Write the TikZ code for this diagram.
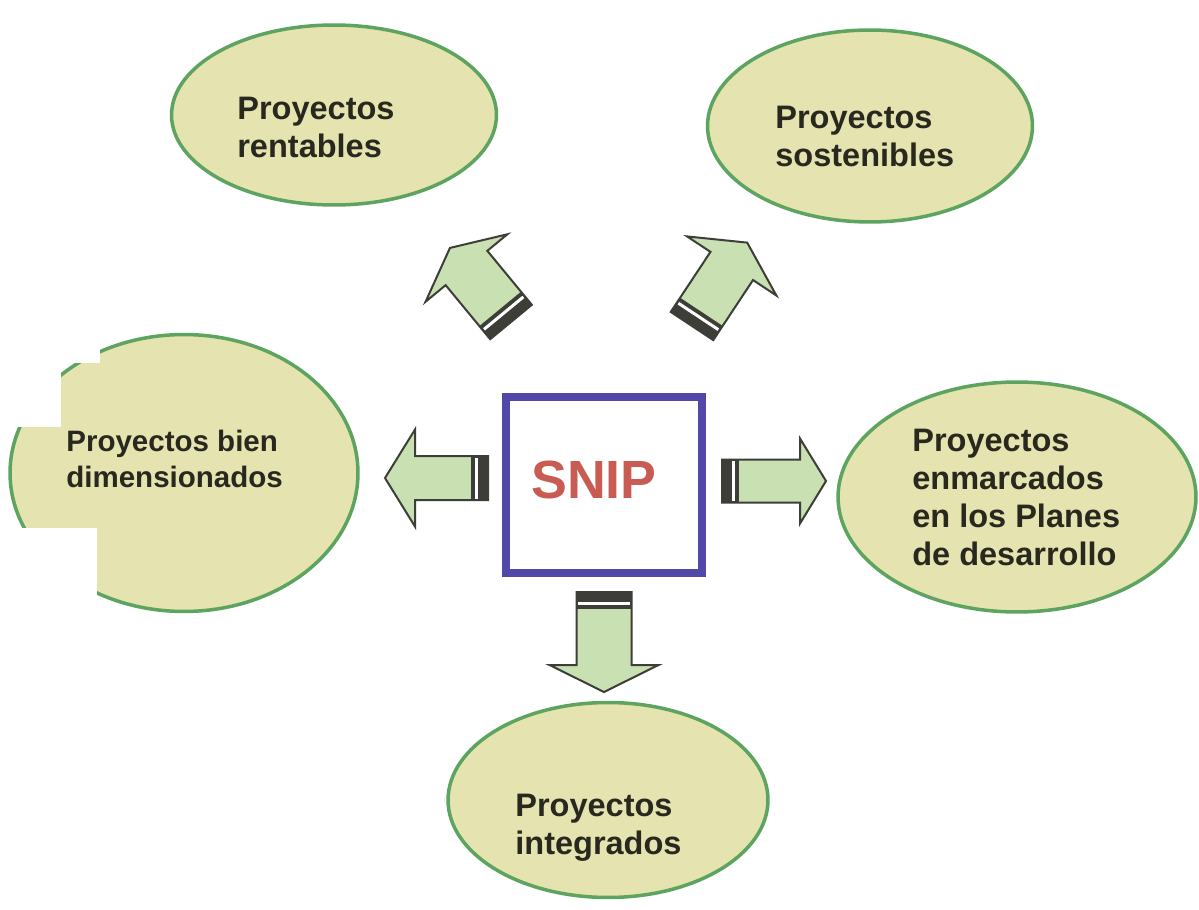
\documentclass[tikz,border=0pt]{standalone}
\usepackage{fontspec}
\setmainfont{Liberation Sans}
\usetikzlibrary{shapes.geometric}

\definecolor{bubblefill}{RGB}{229,227,176}
\definecolor{bubbleline}{RGB}{92,164,96}
\definecolor{arrowfill}{RGB}{200,224,178}
\definecolor{arrowline}{RGB}{60,62,55}
\definecolor{boxline}{RGB}{82,72,170}
\definecolor{sniptext}{RGB}{200,92,82}
\definecolor{labeltext}{RGB}{40,40,30}

\tikzset{
  bubble/.style={ellipse, draw=bubbleline, fill=bubblefill, line width=0.07cm, inner sep=0pt},
  label text/.style={font=\bfseries\fontsize{18.5}{21.5}\selectfont, text=labeltext,
    align=left, anchor=north west, inner sep=0pt},
  small label/.style={label text, font=\bfseries\fontsize{16.8}{20.4}\selectfont},
  centerbox/.style={draw=boxline, line width=0.16cm, fill=white, minimum width=3.92cm,
    minimum height=3.52cm, inner sep=0pt},
}

% Block arrow: #1 tail centre, #2 direction angle, #3 length, #4 shaft width,
% #5 head width, #6 head length (all in picture units)
\newcommand{\blockarrow}[6]{%
  \begin{scope}[shift={#1}, rotate=#2]
    \fill[arrowfill] (0,-#4/2) -- (#3-#6,-#4/2) -- (#3-#6,-#5/2) -- (#3,0)
      -- (#3-#6,#5/2) -- (#3-#6,#4/2) -- (0,#4/2) -- cycle;
    \fill[arrowline] (0,-#4/2) rectangle (17,#4/2);
    \fill[white] (10,-#4/2+1.5) rectangle (13,#4/2-1.5);
    \draw[draw=arrowline, line width=0.04cm, line join=miter]
      (0,-#4/2) -- (#3-#6,-#4/2) -- (#3-#6,-#5/2) -- (#3,0)
      -- (#3-#6,#5/2) -- (#3-#6,#4/2) -- (0,#4/2) -- cycle;
  \end{scope}}

\begin{document}
\begin{tikzpicture}[x=0.02cm, y=-0.02cm]
  \useasboundingbox[fill=white] (0,0) rectangle (1199,909);

  % outcome bubbles
  \node[bubble, minimum width=6.5cm, minimum height=3.6cm] (rent) at (334,115) {};
  \node[bubble, minimum width=6.5cm, minimum height=3.84cm] (sost) at (870,126) {};
  \node[bubble, minimum width=6.96cm, minimum height=5.54cm] (dim) at (184,473) {};
  \node[bubble, minimum width=7.16cm, minimum height=4.6cm] (plan) at (1017,497) {};
  \node[bubble, minimum width=6.4cm, minimum height=3.9cm] (integ) at (608,800) {};

  % torn-off corners of the left bubble
  \fill[white] (0,330) rectangle (100,363);
  \fill[white] (0,362) rectangle (61,427);
  \fill[white] (0,528) rectangle (97,620);

  % labels
  \node[label text] (trent) at (237,97) {Proyectos\\rentables};
  \node[label text] (tsost) at (775,106) {Proyectos\\sostenibles};
  \node[small label] (tdim) at (66,430) {Proyectos bien\\dimensionados};
  \node[label text] (tplan) at (912,429) {Proyectos\\enmarcados\\en los Planes\\de desarrollo};
  \node[label text] (tinteg) at (515,794) {Proyectos\\integrados};

  % central box
  \node[centerbox] (snip) at (604,485) {};
  \node[font=\bfseries\fontsize{30.6}{34}\selectfont, text=sniptext, inner sep=0pt]
    (sniplabel) at (594,480) {SNIP};

  % block arrows leaving the box
  \blockarrow{(511,322)}{129.5}{96}{54}{106}{26}
  \blockarrow{(692,326)}{56.5}{100}{51}{107}{28}
  \blockarrow{(488,478)}{180}{103}{44}{97}{30}
  \blockarrow{(722,481)}{0}{104}{43}{85}{26}
  \blockarrow{(604,592)}{-90}{100}{55}{109}{27}
\end{tikzpicture}
\end{document}
